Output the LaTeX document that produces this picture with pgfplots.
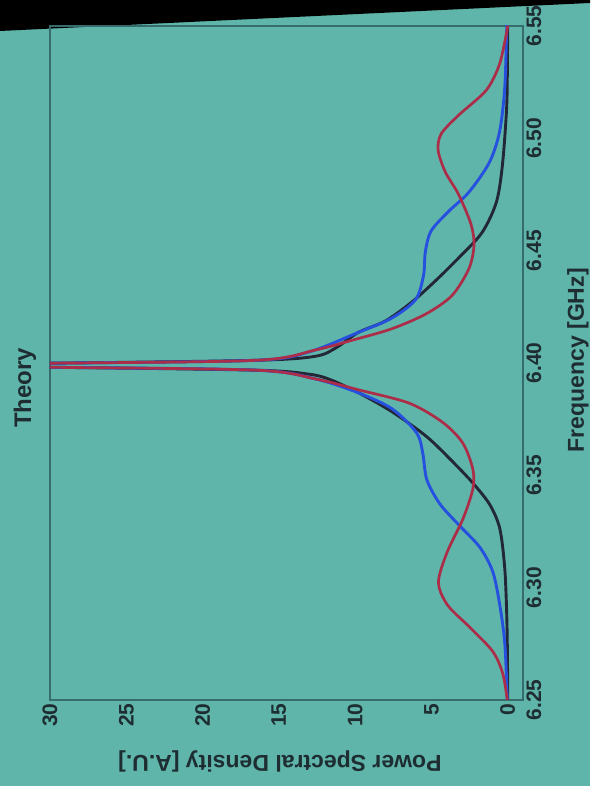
\documentclass[border=0pt]{standalone}
\usepackage{pgfplots}
\pgfplotsset{compat=1.18}
\usepackage{pgfplotstable}
\usepackage{fontspec}
\setmainfont{Liberation Sans}
\definecolor{bg}{RGB}{96,181,171}
\definecolor{framec}{RGB}{55,108,110}
\definecolor{txt}{RGB}{30,45,50}
\definecolor{cblack}{RGB}{35,40,55}
\definecolor{cblue}{RGB}{38,80,222}
\definecolor{cred}{RGB}{172,45,72}

% columns: frequency [GHz], power spectral density [A.U.]
\pgfplotstableread{
f P
6.2500 0.00
6.2700 0.02
6.2890 0.07
6.3090 0.20
6.3263 0.52
6.3370 1.18
6.3466 2.29
6.3560 3.60
6.3672 5.31
6.3782 7.56
6.3866 9.74
6.3925 11.6
6.3950 13.0
6.3968 16.5
6.3981 30
6.3990 45
6.3999 30
6.4012 16.5
6.4030 12.6
6.4070 11.2
6.4136 9.80
6.4187 8.02
6.4270 6.31
6.4367 4.72
6.4469 3.20
6.4581 1.68
6.4717 0.74
6.4887 0.34
6.5140 0.07
6.5350 0.02
6.5500 0.00
}\blackdata

\pgfplotstableread{
f P
6.2500 0.03
6.2750 0.19
6.2922 0.52
6.3071 0.98
6.3179 1.82
6.3274 3.13
6.3372 4.44
6.3480 5.30
6.3599 5.57
6.3689 5.97
6.3795 7.56
6.3866 9.74
6.3929 12.6
6.3968 16.5
6.3981 30
6.3990 45
6.3999 30
6.4012 16.5
6.4050 13.0
6.4136 9.80
6.4199 7.62
6.4282 6.04
6.4390 5.52
6.4495 5.40
6.4587 5.03
6.4674 3.89
6.4760 2.55
6.4892 1.21
6.5028 0.54
6.5220 0.20
6.5480 0.07
6.5500 0.05
}\bluedata

\pgfplotstableread{
f P
6.2500 0.03
6.2616 0.32
6.2715 0.97
6.2821 2.45
6.2923 3.95
6.3024 4.54
6.3158 3.97
6.3307 2.93
6.3439 2.29
6.3528 2.29
6.3644 2.95
6.3736 4.27
6.3821 6.45
6.3880 9.74
6.3929 12.6
6.3968 16.5
6.3981 30
6.3990 45
6.3999 30
6.4012 16.5
6.4058 12.6
6.4105 10.0
6.4152 7.61
6.4218 5.37
6.4300 3.66
6.4419 2.55
6.4524 2.21
6.4618 2.41
6.4750 3.22
6.4850 4.09
6.4946 4.56
6.5020 4.36
6.5103 3.22
6.5214 1.41
6.5330 0.54
6.5480 0.05
6.5500 0.03
}\reddata

\begin{document}
\begin{tikzpicture}
\fill[bg] (0pt,0pt) rectangle (590pt,786pt);
\fill[black] (0pt,786pt) -- (590pt,786pt) -- (590pt,783pt) -- (0pt,755pt) -- cycle;
\begin{axis}[
  at={(50pt,86pt)}, anchor=south west,
  scale only axis, width=473pt, height=674pt,
  x dir=reverse, xmin=-1, xmax=30,
  ymin=6.25, ymax=6.55,
  xtick={0,5,10,15,20,25,30},
  ytick={6.25,6.30,6.35,6.40,6.45,6.50,6.55},
  yticklabel pos=right,
  scaled y ticks=false,
  axis line style={draw=framec, line width=1.3pt},
  tick style={draw=none},
  /pgf/number format/assume math mode=true,
  xticklabel style={rotate=90, anchor=east, text=txt,
    font=\fontsize{21}{21}\selectfont\bfseries},
  yticklabel style={rotate=90, anchor=north, text=txt,
    font=\fontsize{21}{21}\selectfont\bfseries,
    /pgf/number format/fixed, /pgf/number format/precision=2,
    /pgf/number format/fixed zerofill},
  xlabel={Power Spectral Density [A.U.]},
  ylabel={Frequency [GHz]},
  title={Theory},
  every axis x label/.style={at={(axis description cs:0.486,-0.0905)},
    anchor=center, rotate=180, text=txt,
    font=\fontsize{23}{23}\selectfont\bfseries},
  every axis y label/.style={at={(axis description cs:1.116,0.504)},
    anchor=center, rotate=90, text=txt,
    font=\fontsize{23}{23}\selectfont\bfseries},
  every axis title/.style={at={(axis description cs:-0.053,0.463)},
    anchor=center, rotate=90, text=txt,
    font=\fontsize{24}{24}\selectfont\bfseries},
]
\addplot[cblack, line width=2.9pt, smooth, tension=0.5] table[x=P, y=f] {\blackdata};
\addplot[cblue, line width=2.9pt, smooth, tension=0.5] table[x=P, y=f] {\bluedata};
\addplot[cred, line width=2.7pt, smooth, tension=0.5] table[x=P, y=f] {\reddata};
\end{axis}
\pgfresetboundingbox
\path[use as bounding box] (0pt,0pt) rectangle (590pt,786pt);
\end{tikzpicture}
\end{document}
